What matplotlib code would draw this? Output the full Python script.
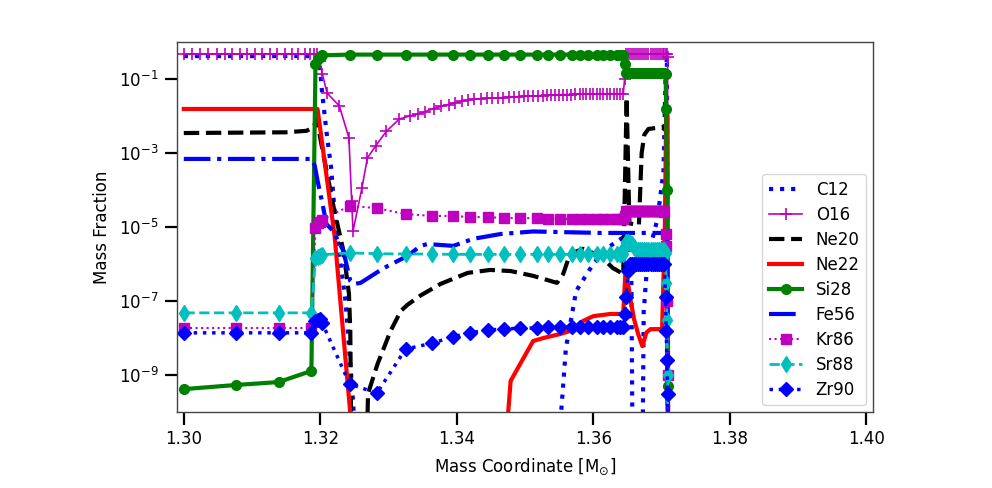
import numpy as np
import matplotlib
matplotlib.use("Agg")
import matplotlib.pyplot as plt

# ---------------- data (log10 of mass fraction) ----------------
# shared grid used by the marker species (Si28, Kr86, Sr88, Zr90)
mass = [1.3001, 1.3076, 1.3139, 1.3187, 1.3193, 1.3197, 1.3200, 1.3203,
        1.3243, 1.3283, 1.3325, 1.3364, 1.3394, 1.3419, 1.3446, 1.3470, 1.3493, 1.3517,
        1.3534, 1.3552, 1.3569, 1.3581, 1.3593, 1.3606, 1.3615, 1.3625, 1.3635, 1.3640,
        1.3644, 1.3646,
        1.3648, 1.3651, 1.3654, 1.3657, 1.3660, 1.3663, 1.3666, 1.3669, 1.3672, 1.3675,
        1.3678, 1.3681, 1.3684, 1.3687, 1.3690, 1.3693, 1.3696, 1.3699, 1.3702, 1.3704,
        1.3706, 1.3707, 1.3708, 1.3709, 1.3710]

si28 = [-9.38, -9.27, -9.19, -8.89, -0.60, -0.45, -0.40, -0.36,
        -0.34, -0.34, -0.34, -0.34, -0.34, -0.34, -0.34, -0.34, -0.34, -0.34,
        -0.34, -0.34, -0.34, -0.34, -0.34, -0.34, -0.34, -0.34, -0.34, -0.34,
        -0.34, -0.60,
        -0.84, -0.84, -0.84, -0.84, -0.84, -0.84, -0.84, -0.84, -0.84, -0.84,
        -0.84, -0.84, -0.84, -0.84, -0.84, -0.84, -0.84, -0.84, -0.84, -0.84,
        -0.86, -1.80, -4.00, -9.30, -12.0]

kr86 = [-7.73, -7.73, -7.73, -7.73, -5.03, -4.89, -4.87, -4.80,
        -4.43, -4.49, -4.65, -4.70, -4.70, -4.73, -4.73, -4.76, -4.76, -4.76,
        -4.78, -4.78, -4.78, -4.78, -4.78, -4.78, -4.78, -4.78, -4.78, -4.78,
        -4.78, -4.70,
        -4.58, -4.58, -4.58, -4.58, -4.58, -4.58, -4.58, -4.58, -4.58, -4.58,
        -4.58, -4.58, -4.58, -4.58, -4.58, -4.58, -4.58, -4.58, -4.58, -4.60,
        -5.20, -5.50, -7.00, -9.00, -12.0]

sr88 = [-7.32, -7.32, -7.32, -7.32, -5.85, -5.80, -5.78, -5.75,
        -5.70, -5.72, -5.73, -5.73, -5.74, -5.74, -5.74, -5.74, -5.74, -5.74,
        -5.74, -5.74, -5.74, -5.74, -5.74, -5.74, -5.74, -5.74, -5.74, -5.74,
        -5.72, -5.50,
        -5.40, -5.40, -5.42, -5.45, -5.55, -5.62, -5.62, -5.62, -5.62, -5.62,
        -5.62, -5.62, -5.62, -5.62, -5.62, -5.62, -5.62, -5.62, -5.62, -5.62,
        -5.70, -6.50, -7.50, -9.00, -12.0]

zr90 = [-7.86, -7.86, -7.86, -7.86, -7.55, -7.50, -7.49, -7.60,
        -9.24, -9.49, -8.30, -8.14, -7.97, -7.86, -7.78, -7.76, -7.73, -7.73,
        -7.71, -7.71, -7.71, -7.71, -7.71, -7.71, -7.71, -7.71, -7.71, -7.71,
        -7.70, -7.35,
        -6.90, -6.20, -6.00, -6.00, -6.00, -6.00, -6.00, -6.00, -6.00, -6.00,
        -6.00, -6.00, -6.00, -6.00, -6.00, -6.00, -6.00, -6.00, -6.00, -6.00,
        -6.90, -7.80, -8.60, -9.50, -12.0]

# O16 (dense '+' markers)
o16_x = [1.3000, 1.3012, 1.3024, 1.3036, 1.3048, 1.3060, 1.3071, 1.3082, 1.3093, 1.3104,
         1.3115, 1.3126, 1.3137, 1.3148, 1.3158, 1.3168, 1.3177, 1.3185, 1.3191, 1.3195,
         1.3199, 1.3203, 1.3210, 1.3228, 1.3242, 1.3246, 1.3248,
         1.3261, 1.3269, 1.3281, 1.3297, 1.3316, 1.3331, 1.3343, 1.3354, 1.3366, 1.3377,
         1.3388, 1.3398, 1.3408, 1.3417, 1.3426, 1.3435, 1.3444, 1.3452, 1.3460, 1.3468,
         1.3476, 1.3484, 1.3491, 1.3498, 1.3505, 1.3512, 1.3519, 1.3526, 1.3532, 1.3538,
         1.3544, 1.3550, 1.3556, 1.3562, 1.3568, 1.3574, 1.3580, 1.3585, 1.3590, 1.3595,
         1.3600, 1.3605, 1.3610, 1.3615, 1.3620, 1.3625, 1.3630, 1.3635, 1.3640, 1.3644,
         1.3646, 1.3648, 1.3651, 1.3654, 1.3657, 1.3660, 1.3663, 1.3666, 1.3669, 1.3672,
         1.3675, 1.3678, 1.3681, 1.3684, 1.3687, 1.3690, 1.3693, 1.3696, 1.3699, 1.3702,
         1.3704, 1.3706, 1.3708, 1.3709, 1.3710]
o16 = [-0.32, -0.32, -0.32, -0.32, -0.32, -0.32, -0.32, -0.32, -0.32, -0.32,
       -0.32, -0.32, -0.32, -0.32, -0.32, -0.32, -0.32, -0.32, -0.32, -0.32,
       -0.50, -0.86, -1.38, -1.73, -2.59, -4.30, -5.11,
       -3.95, -3.14, -2.81, -2.41, -2.08, -2.00, -1.95, -1.88, -1.80, -1.74,
       -1.69, -1.64, -1.60, -1.56, -1.54, -1.53, -1.52, -1.51, -1.51, -1.50,
       -1.49, -1.48, -1.48, -1.47, -1.46, -1.46, -1.45, -1.45, -1.44, -1.44,
       -1.43, -1.43, -1.42, -1.42, -1.42, -1.41, -1.41, -1.41, -1.41, -1.41,
       -1.41, -1.41, -1.41, -1.41, -1.41, -1.41, -1.41, -1.41, -1.41, -1.41,
       -1.00, -0.32, -0.32, -0.32, -0.32, -0.32, -0.32, -0.32, -0.32, -0.32,
       -0.32, -0.32, -0.32, -0.32, -0.32, -0.32, -0.32, -0.32, -0.32, -0.32,
       -0.32, -0.32, -0.32, -0.40, -12.0]

# line-only species
c12_x = [1.3000, 1.3195, 1.3199, 1.3202, 1.3209, 1.3216, 1.3223, 1.3237, 1.3247, 1.3256,
         1.3545, 1.3560, 1.3575, 1.3600, 1.3620, 1.3636, 1.3646, 1.3652, 1.3656, 1.3658,
         1.3672, 1.3674, 1.3680, 1.3694, 1.3703, 1.3706, 1.3708, 1.3710]
c12 = [-0.38, -0.38, -0.55, -1.24, -2.41, -3.41, -5.03, -7.00, -9.43, -12.0,
       -12.0, -8.27, -6.73, -6.00, -5.57, -5.38, -5.25, -5.25, -6.50, -12.0,
       -12.0, -7.30, -5.80, -4.80, -3.50, -1.00, -0.40, -12.0]

ne20_x = [1.3000, 1.3150, 1.3180, 1.3190, 1.3195, 1.3201, 1.3220, 1.3234, 1.3242, 1.3244,
          1.3246, 1.3267, 1.3270, 1.3284, 1.3303, 1.3318, 1.3328, 1.3347, 1.3376, 1.3416,
          1.3449, 1.3479, 1.3512, 1.3547, 1.3556, 1.3566, 1.3585, 1.3610, 1.3629, 1.3644,
          1.3649, 1.3653, 1.3667, 1.3671, 1.3675, 1.3681, 1.3701, 1.3707, 1.3710]
ne20 = [-2.46, -2.44, -2.40, -2.30, -2.08, -2.70, -4.50, -5.65, -6.80, -7.80,
        -12.0, -12.0, -9.50, -8.70, -7.81, -7.27, -7.10, -6.85, -6.54, -6.24,
        -6.16, -6.19, -6.32, -6.51, -6.27, -5.73, -5.59, -5.78, -6.11, -6.27,
        -1.50, -4.90, -4.95, -3.00, -2.50, -2.35, -2.30, -2.40, -12.0]

ne22_x = [1.3000, 1.3196, 1.3221, 1.3244, 1.3247,
          1.3467, 1.3479, 1.3493, 1.3512, 1.3527, 1.3552, 1.3566, 1.3585, 1.3600, 1.3625,
          1.3644, 1.3647, 1.3650, 1.3655, 1.3660, 1.3666, 1.3672, 1.3678, 1.3684, 1.3701,
          1.3705, 1.3707, 1.3709, 1.3710]
ne22 = [-1.81, -1.81, -5.24, -10.03, -12.0,
        -12.0, -9.16, -8.70, -8.08, -8.00, -7.89, -7.81, -7.54, -7.41, -7.35,
        -7.35, -6.30, -6.40, -7.00, -7.50, -7.90, -8.22, -7.85, -7.76, -7.76,
        -5.00, -1.90, -2.00, -12.0]

fe56_x = [1.3000, 1.3188, 1.3192, 1.3196, 1.3203, 1.3209, 1.3219, 1.3234, 1.3244, 1.3249,
          1.3259, 1.3293, 1.3328, 1.3347, 1.3357, 1.3395, 1.3424, 1.3464, 1.3512, 1.3560,
          1.3610, 1.3708, 1.3710]
fe56 = [-3.16, -3.16, -3.35, -3.75, -4.35, -4.92, -5.11, -5.65, -6.46, -6.54,
        -6.51, -6.11, -5.78, -5.51, -5.46, -5.51, -5.32, -5.19, -5.12, -5.14,
        -5.16, -5.16, -12.0]

labels = ["C12", "O16", "Ne20", "Ne22", "Si28", "Fe56", "Kr86", "Sr88", "Zr90"]
xticks = [1.30, 1.32, 1.34, 1.36, 1.38, 1.40]
yticks = [1e-9, 1e-7, 1e-5, 1e-3, 1e-1]

# ---------------- plot ----------------
def lin(v):
    return 10.0 ** np.asarray(v)

fig = plt.figure(figsize=(9.92, 4.88), dpi=100)
ax = fig.add_axes([0.1784, 0.1557, 0.7016, 0.7582])

ax.plot(c12_x, lin(c12), ':', color='b', lw=3, label=labels[0])
ax.plot(o16_x, lin(o16), '-', color='m', lw=1.2, marker='+', ms=8, mew=1.2, label=labels[1])
ax.plot(ne20_x, lin(ne20), '--', color='k', lw=3, label=labels[2])
ax.plot(ne22_x, lin(ne22), '-', color='r', lw=3, label=labels[3])
ax.plot(mass, lin(si28), '-', color='g', lw=3, marker='o', ms=7, label=labels[4])
ax.plot(fe56_x, lin(fe56), '-.', color='b', lw=3, label=labels[5])
ax.plot(mass, lin(kr86), ':', color='m', lw=1.5, marker='s', ms=7, label=labels[6])
ax.plot(mass, lin(sr88), '--', color='c', lw=2, marker='d', ms=8, label=labels[7])
ax.plot(mass, lin(zr90), ':', color='b', lw=2.5, marker='D', ms=7, label=labels[8])

ax.set_yscale('log')
ax.set_xlim(1.299, 1.401)
ax.set_ylim(1e-10, 1.0)
ax.set_xticks(xticks)
ax.set_xticklabels([f"{t:.2f}" for t in xticks])
ax.set_yticks(yticks)
ax.yaxis.set_minor_locator(matplotlib.ticker.NullLocator())
ax.tick_params(axis='both', which='major', labelsize=12, length=9, width=1.6,
               direction='out', pad=4)
for s in ax.spines.values():
    s.set_color('#444444')
    s.set_linewidth(1.0)

ax.set_xlabel(r'Mass Coordinate [M$_{\odot}$]', fontsize=12, labelpad=6)
ax.set_ylabel('Mass Fraction', fontsize=12, labelpad=6)
ax.legend(loc='lower right', fontsize=12, borderaxespad=0.4, labelspacing=0.42)

fig.savefig('out.png', dpi=100)
